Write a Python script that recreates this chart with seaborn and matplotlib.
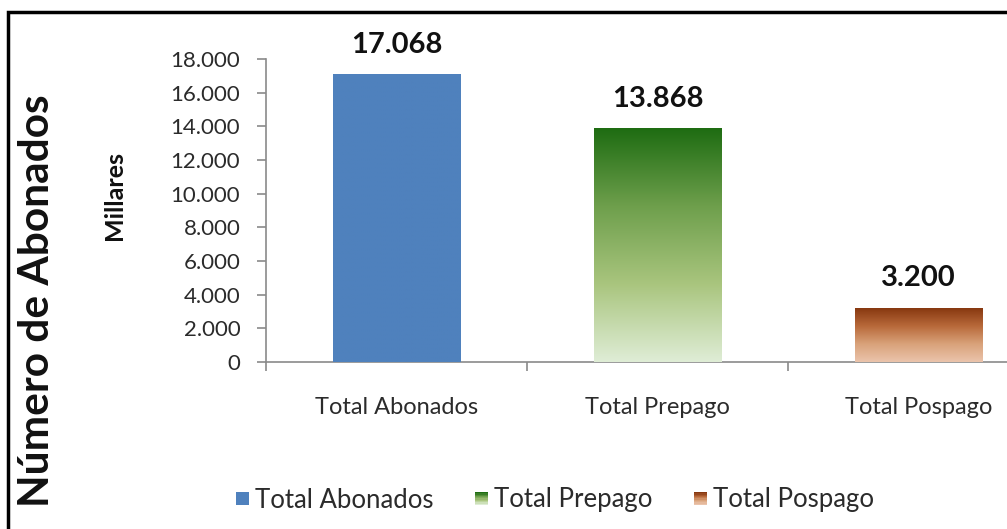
import numpy as np
import pandas as pd
import matplotlib
matplotlib.use("Agg")
import matplotlib.pyplot as plt
import seaborn as sns
from matplotlib.colors import LinearSegmentedColormap
from matplotlib.patches import Rectangle
from matplotlib.legend_handler import HandlerBase
from matplotlib.ticker import FixedLocator, FuncFormatter

# --- data -------------------------------------------------------------
categories = ["Total Abonados", "Total Prepago", "Total Pospago"]
values = [17068, 13868, 3200]
y_ticks = [0, 2000, 4000, 6000, 8000, 10000, 12000, 14000, 16000, 18000]

# --- style ------------------------------------------------------------
sns.set_theme(style="white")
plt.rcParams["font.family"] = ["Lato", "DejaVu Sans"]

blue = "#4F81BD"
green_stops = ["#1E6C12", "#6E9F4C", "#A9C57E", "#DFEDD6"]
brown_stops = ["#873810", "#B8693A", "#D9A27A", "#EBC4AC"]
gradients = [
    LinearSegmentedColormap.from_list("blue", [blue, blue]),
    LinearSegmentedColormap.from_list("green", green_stops),
    LinearSegmentedColormap.from_list("brown", brown_stops),
]
text_color = "#2b2b2b"
axis_color = "#8a8a8a"


class GradientHandler(HandlerBase):
    def __init__(self, cmap):
        super().__init__()
        self.cmap = cmap

    def create_artists(self, legend, orig_handle, xdescent, ydescent,
                       width, height, fontsize, trans):
        side = min(width, height)
        x0 = -xdescent + (width - side) / 2
        y0 = -ydescent + (height - side) / 2
        n = 10
        out = []
        for i in range(n):
            r = Rectangle((x0, y0 + side * i / n), side, side / n + 0.3,
                          facecolor=self.cmap(1 - i / (n - 1)),
                          edgecolor="none", transform=trans)
            out.append(r)
        return out


df = pd.DataFrame({"Categoria": categories, "Abonados": values})

fig = plt.figure(figsize=(10.07, 5.29), dpi=100)
ax = fig.add_axes([266 / 1007, 167 / 529, 783 / 1007, 303 / 529])

sns.barplot(data=df, x="Categoria", y="Abonados", color=blue,
            width=0.49, ax=ax, zorder=2)

ax.set_xlim(-0.5, 2.5)
ax.set_ylim(0, 18000)

# gradient fill for each bar
for patch, cmap in zip(ax.patches, gradients):
    x0, w, h = patch.get_x(), patch.get_width(), patch.get_height()
    grad = np.linspace(0, 1, 256).reshape(-1, 1)
    ax.imshow(grad, cmap=cmap, extent=[x0, x0 + w, 0, h], origin="upper",
              aspect="auto", zorder=3, interpolation="bilinear")
    ax.annotate(f"{h:,.0f}".replace(",", "."), (x0 + w / 2, h),
                xytext=(0, 12), textcoords="offset points",
                ha="center", va="bottom", fontsize=21, fontweight="bold",
                color="#111111")

ax.set_xlim(-0.5, 2.5)
ax.set_ylim(0, 18000)

# axes appearance
for s in ["top", "right"]:
    ax.spines[s].set_visible(False)
for s in ["left", "bottom"]:
    ax.spines[s].set_color(axis_color)
    ax.spines[s].set_linewidth(1.2)

ax.yaxis.set_major_locator(FixedLocator(y_ticks))
ax.yaxis.set_major_formatter(
    FuncFormatter(lambda v, p: f"{v:,.0f}".replace(",", ".")))
ax.tick_params(axis="y", which="major", direction="out", length=6.5,
               width=1.2, color=axis_color, pad=12, labelsize=16,
               labelcolor=text_color, left=True)

ax.xaxis.set_major_locator(FixedLocator([-0.5, 0.5, 1.5, 2.5]))
ax.xaxis.set_major_formatter(FuncFormatter(lambda v, p: ""))
ax.xaxis.set_minor_locator(FixedLocator([0, 1, 2]))
ax.xaxis.set_minor_formatter(FuncFormatter(lambda v, p: categories[int(round(v))]))
ax.tick_params(axis="x", which="major", direction="out", length=6.5,
               width=1.2, color=axis_color, bottom=True)
ax.tick_params(axis="x", which="minor", length=0, pad=25, labelsize=17,
               labelcolor=text_color)

ax.set_xlabel("")
ax.set_ylabel("")

fig.text(37 / 1007, 1 - 301 / 529, "Número de Abonados", rotation=90,
         ha="center", va="center", fontsize=30.5, fontweight="bold",
         color="#111111")
fig.text(114 / 1007, 1 - 195 / 529, "Millares", rotation=90,
         ha="center", va="center", fontsize=18, fontweight="bold",
         color="#111111")

# legend
handles = [Rectangle((0, 0), 1, 1) for _ in categories]
fig.legend(handles, categories,
           handler_map={h: GradientHandler(c) for h, c in zip(handles, gradients)},
           loc="center", bbox_to_anchor=(555 / 1007, 29 / 529), ncol=3,
           frameon=False, fontsize=18.5, handlelength=0.5, handleheight=0.5,
           handletextpad=0.25, columnspacing=1.6, labelcolor=text_color)

# chart border
fig.add_artist(Rectangle((8 / 1007, -0.1), 1.2, 1 - 12 / 529 + 0.1,
                         transform=fig.transFigure, fill=False,
                         edgecolor="black", linewidth=2.5))

fig.savefig("out.png", dpi=100)
